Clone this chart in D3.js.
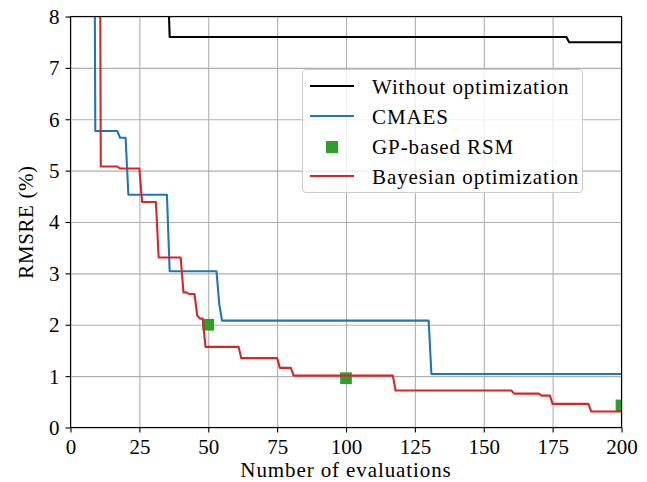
<!DOCTYPE html>
<html>
<head>
<meta charset="utf-8">
<script src="https://cdn.jsdelivr.net/npm/d3@7"></script>
<style>
  html, body { margin: 0; padding: 0; background: #fff; }
</style>
</head>
<body>
<svg id="chart" width="647" height="482"></svg>
<script>
// Best RMSRE found so far versus number of evaluations, per method.
const noOptX = [35, 36, 180, 181, 200];
const noOptY = [9.2, 7.6, 7.6, 7.5, 7.5];

const cmaesX = [8, 9, 17, 18, 20, 21, 35, 36, 53, 54, 55, 130, 131, 200];
const cmaesY = [20, 5.77, 5.77, 5.64, 5.64, 4.53, 4.53, 3.04, 3.04, 2.4, 2.08, 2.08, 1.04, 1.04];

const gpX = [50, 100, 200];
const gpY = [2.0, 0.96, 0.43];

const bayesX = [10, 11, 17, 18, 25, 26, 31, 32, 40, 41, 42, 43, 45, 46, 47, 48, 49, 61, 62, 75, 76, 80, 81,
                117, 118, 160, 161, 170, 171, 174, 175, 188, 189, 200];
const bayesY = [20, 5.08, 5.08, 5.04, 5.04, 4.39, 4.39, 3.31, 3.31, 2.63, 2.63, 2.60, 2.60, 2.18, 2.12, 2.12, 1.57,
                1.57, 1.35, 1.35, 1.16, 1.16, 1.01, 1.01, 0.72, 0.72, 0.66, 0.66, 0.62, 0.62, 0.46, 0.46, 0.31, 0.31];

const xTicks = [0, 25, 50, 75, 100, 125, 150, 175, 200];
const yTicks = [0, 1, 2, 3, 4, 5, 6, 7, 8];

const seriesNames = ["Without optimization", "CMAES", "GP-based RSM", "Bayesian optimization"];
const colors = { black: "#000000", blue: "#1f77b4", green: "#2ca02c", red: "#d62728" };

const plotLeft = 70.5, plotRight = 621.5, plotTop = 16.5, plotBottom = 427.5;
const fontSize = 21;
const serif = "'Liberation Serif', 'DejaVu Serif', serif";

const svg = d3.select("#chart");
const x = d3.scaleLinear().domain([0, 200]).range([plotLeft, plotRight]);
const y = d3.scaleLinear().domain([0, 8]).range([plotBottom, plotTop]);

svg.append("defs").append("clipPath").attr("id", "plotClip")
  .append("rect").attr("x", plotLeft).attr("y", plotTop)
  .attr("width", plotRight - plotLeft).attr("height", plotBottom - plotTop);

// grid
const grid = svg.append("g");
grid.append("g").attr("transform", `translate(0,${plotBottom})`)
  .call(d3.axisBottom(x).tickValues(xTicks).tickSize(-(plotBottom - plotTop)).tickFormat(""))
  .call(g => g.select(".domain").remove())
  .call(g => g.selectAll("line").attr("stroke", "#b0b0b0").attr("stroke-width", 1.1));
grid.append("g").attr("transform", `translate(${plotLeft},0)`)
  .call(d3.axisLeft(y).tickValues(yTicks).tickSize(-(plotRight - plotLeft)).tickFormat(""))
  .call(g => g.select(".domain").remove())
  .call(g => g.selectAll("line").attr("stroke", "#b0b0b0").attr("stroke-width", 1.1));

// series
const plot = svg.append("g").attr("clip-path", "url(#plotClip)");
const line = d3.line().x(d => x(d[0])).y(d => y(d[1]));
const pairs = (xs, ys) => xs.map((v, i) => [v, ys[i]]);

plot.append("path").datum(pairs(noOptX, noOptY)).attr("d", line)
  .attr("fill", "none").attr("stroke", colors.black).attr("stroke-width", 2.1).attr("stroke-linejoin", "round");
plot.append("path").datum(pairs(cmaesX, cmaesY)).attr("d", line)
  .attr("fill", "none").attr("stroke", colors.blue).attr("stroke-width", 2.1).attr("stroke-linejoin", "round");
const sq = 11.7;
plot.selectAll("rect.gp").data(pairs(gpX, gpY)).join("rect").attr("class", "gp")
  .attr("x", d => x(d[0]) - sq / 2).attr("y", d => y(d[1]) - sq / 2)
  .attr("width", sq).attr("height", sq).attr("fill", colors.green);
plot.append("path").datum(pairs(bayesX, bayesY)).attr("d", line)
  .attr("fill", "none").attr("stroke", colors.red).attr("stroke-width", 2.1).attr("stroke-linejoin", "round");

// axes
const xAxis = svg.append("g").attr("transform", `translate(0,${plotBottom})`)
  .call(d3.axisBottom(x).tickValues(xTicks).tickSize(5).tickPadding(7).tickFormat(d3.format("d")));
const yAxis = svg.append("g").attr("transform", `translate(${plotLeft},0)`)
  .call(d3.axisLeft(y).tickValues(yTicks).tickSize(5).tickPadding(6).tickFormat(d3.format("d")));
[xAxis, yAxis].forEach(a => {
  a.attr("font-family", serif).attr("font-size", fontSize);
  a.select(".domain").remove();
  a.selectAll("line").attr("stroke", "#000").attr("stroke-width", 1.1);
  a.selectAll("text").attr("fill", "#000").attr("font-family", serif).attr("font-size", fontSize);
});
xAxis.selectAll("text").attr("dy", null).attr("y", 26);
yAxis.selectAll("text").attr("dy", "0.33em");

// spines
svg.append("rect").attr("x", plotLeft).attr("y", plotTop)
  .attr("width", plotRight - plotLeft).attr("height", plotBottom - plotTop)
  .attr("fill", "none").attr("stroke", "#000").attr("stroke-width", 1.1);

// axis titles
svg.append("text").attr("x", (plotLeft + plotRight) / 2).attr("y", 476.5)
  .attr("text-anchor", "middle").attr("font-family", serif).attr("font-size", fontSize)
  .attr("letter-spacing", 0.9)
  .text("Number of evaluations");
svg.append("text").attr("transform", `translate(33,${(plotTop + plotBottom) / 2}) rotate(-90)`)
  .attr("text-anchor", "middle").attr("font-family", serif).attr("font-size", fontSize)
  .attr("letter-spacing", 0.6)
  .text("RMSRE (%)");

// legend
const legend = svg.append("g");
legend.append("rect").attr("x", 302.5).attr("y", 69.5).attr("width", 280).attr("height", 123)
  .attr("rx", 4).attr("fill", "#fff").attr("fill-opacity", 0.8)
  .attr("stroke", "#cccccc").attr("stroke-width", 1.1);
const legendKinds = [
  { name: seriesNames[0], color: colors.black, kind: "line" },
  { name: seriesNames[1], color: colors.blue, kind: "line" },
  { name: seriesNames[2], color: colors.green, kind: "square" },
  { name: seriesNames[3], color: colors.red, kind: "line" }
];
legendKinds.forEach((k, i) => {
  const cy = 86 + i * 30;
  if (k.kind === "line") {
    legend.append("line").attr("x1", 310).attr("x2", 354).attr("y1", cy).attr("y2", cy)
      .attr("stroke", k.color).attr("stroke-width", 2.1);
  } else {
    legend.append("rect").attr("x", 332 - 6).attr("y", cy + 1 - 6).attr("width", 12).attr("height", 12)
      .attr("fill", k.color);
  }
  legend.append("text").attr("x", 372).attr("y", cy + 7.5).attr("font-family", serif)
    .attr("font-size", fontSize).attr("letter-spacing", 0.9).text(k.name);
});
</script>
</body>
</html>
